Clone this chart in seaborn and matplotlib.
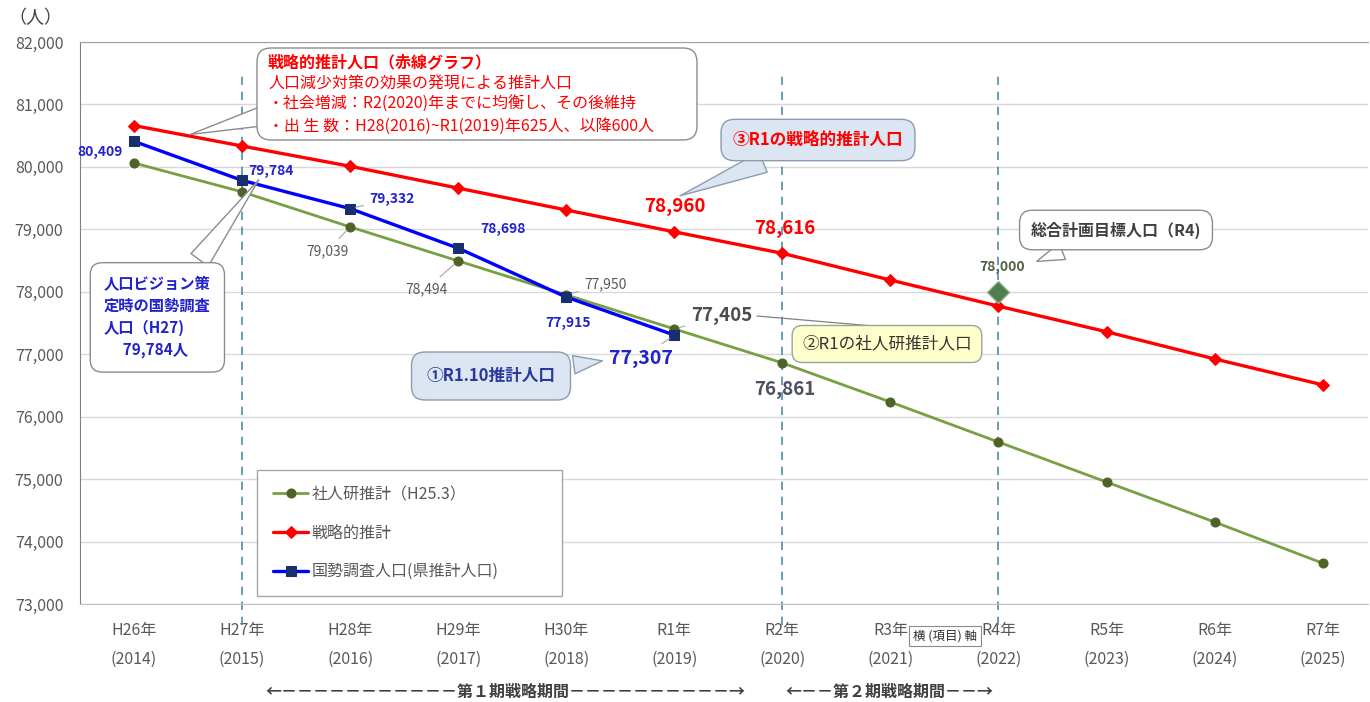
import numpy as np
import pandas as pd
import seaborn as sns
import matplotlib.pyplot as plt
from matplotlib.patches import FancyBboxPatch, Polygon

# data
years = ['H26年\n(2014)', 'H27年\n(2015)', 'H28年\n(2016)', 'H29年\n(2017)', 'H30年\n(2018)',
         'R1年\n(2019)', 'R2年\n(2020)', 'R3年\n(2021)', 'R4年\n(2022)', 'R5年\n(2023)',
         'R6年\n(2024)', 'R7年\n(2025)']
ipss = [80062, 79600, 79039, 78494, 77950, 77405, 76861, 76235, 75594, 74953, 74313, 73654]
strategic = [80662, 80334, 80010, 79660, 79310, 78960, 78616, 78188, 77770, 77360, 76925, 76510]
census = [80409, 79784, 79332, 78698, 77915, 77307]
target_idx = 8
target_pop = 78000
period_lines = [1, 6, 8]

W, H = 1370, 702
DPI = 100


def fp(x, y):
    # reference pixel -> figure fraction
    return (x / W, 1 - y / H)


def inch(x, y):
    return (x / DPI, (H - y) / DPI)


sns.set_style("white")
plt.rcParams['font.family'] = ['Noto Sans CJK JP', 'DejaVu Sans']

fig, ax = plt.subplots(figsize=(W / DPI, H / DPI), dpi=DPI)
fig.subplots_adjust(left=80 / W, right=1368 / W, top=1 - 42 / H, bottom=1 - 604 / H)

x = np.arange(len(years))
df_ipss = pd.DataFrame({'x': x, 'pop': ipss})
df_str = pd.DataFrame({'x': x, 'pop': strategic})
df_cen = pd.DataFrame({'x': x[:len(census)], 'pop': census})

# grid
for v in range(73000, 82001, 1000):
    ax.axhline(v, color='#d9d9d9', lw=1, zorder=0)

# period dashed lines
ax.vlines(period_lines, 72660, 81470, colors='#4f8ea8', linestyles=(0, (5, 4)), lw=1.2,
          clip_on=False, zorder=1)

sns.lineplot(data=df_ipss, x='x', y='pop', ax=ax, color='#77a044', lw=2.0, marker='o',
             markersize=6.5, markerfacecolor='#4f6228', markeredgecolor='#4f6228',
             label='社人研推計（H25.3）', zorder=3)
sns.lineplot(data=df_str, x='x', y='pop', ax=ax, color='#ff0000', lw=2.4, marker='D',
             markersize=6.5, markerfacecolor='#ff0000', markeredgecolor='#ff0000',
             label='戦略的推計', zorder=4)
sns.lineplot(data=df_cen, x='x', y='pop', ax=ax, color='#0000ff', lw=2.4, marker='s',
             markersize=7.5, markerfacecolor='#172f6e', markeredgecolor='#172f6e',
             label='国勢調査人口(県推計人口)', zorder=5)
ax.plot([target_idx], [target_pop], marker='D', markersize=11, color='#4e7d4e',
        markeredgecolor='#8fb08f', zorder=6)

ax.set_xlim(-0.5, 11.42)
ax.set_ylim(73000, 82000)
ax.set_xticks(x)
ax.set_xticklabels(years, fontsize=11.5, color='#595959', linespacing=1.9)
ax.set_yticks(range(73000, 82001, 1000))
ax.set_yticklabels([f'{v:,}' for v in range(73000, 82001, 1000)], fontsize=11.5, color='#595959')
ax.tick_params(axis='x', length=0, pad=13)
ax.tick_params(axis='y', length=0, pad=12)
ax.set_xlabel('')
ax.set_ylabel('')
ax.spines['right'].set_visible(False)
ax.spines['left'].set_color('#808080')
ax.spines['top'].set_color('#a0a0a0')
ax.spines['bottom'].set_color('#bfbfbf')

leg = ax.legend(loc='upper left',
                bbox_to_anchor=((257 - 80) / 1288, (604 - 590) / 562, (562 - 257) / 1288, (590 - 470) / 562),
                mode='expand', borderaxespad=0, fontsize=11.5, labelspacing=1.35, handlelength=2.2,
                handletextpad=0.2, borderpad=1.0, fancybox=False, edgecolor='#a6a6a6',
                framealpha=1)
for t in leg.get_texts():
    t.set_color('#595959')


def lab(i, v, text, dx, dy, color, size=10, weight='bold', leader=False):
    ap = None
    if leader:
        ap = dict(arrowstyle='-', color='#a6a6a6', lw=0.8, shrinkA=2, shrinkB=4)
    ax.annotate(text, xy=(i, v), xytext=(dx * 72 / DPI, -dy * 72 / DPI), textcoords='offset points',
                ha='center', va='center', fontsize=size, color=color, fontweight=weight,
                arrowprops=ap, zorder=7)


blue = '#2222cc'
lab(0, census[0], f'{census[0]:,}', -34, 11, blue)
lab(1, census[1], f'{census[1]:,}', 29, -9, blue)
lab(2, census[2], f'{census[2]:,}', 42, -10, blue, leader=True)
lab(3, census[3], f'{census[3]:,}', 45, -19, blue)
lab(4, census[4], f'{census[4]:,}', 2, 26, blue)
lab(5, census[5], f'{census[5]:,}', -33, 23, blue, size=14, leader=True)

gray = '#595959'
lab(2, ipss[2], f'{ipss[2]:,}', -23, 24, gray, weight='normal', leader=True)
lab(3, ipss[3], f'{ipss[3]:,}', -32, 28, gray, weight='normal', leader=True)
lab(4, ipss[4], f'{ipss[4]:,}', 39, -11, gray, weight='normal', leader=True)
lab(5, ipss[5], f'{ipss[5]:,}', 47, -13, '#4d4d4d', size=13.5, leader=True)
lab(6, ipss[6], f'{ipss[6]:,}', 2, 27, '#4d5060', size=13.5)

lab(5, strategic[5], f'{strategic[5]:,}', 1, -25, '#ff0000', size=13.5)
lab(6, strategic[6], f'{strategic[6]:,}', 2, -25, '#ff0000', size=13.5)
lab(target_idx, target_pop, f'{target_pop:,}', 4, -25, '#4f5f3f', size=10)


def callout(text, pos, target, fc, ec, color, size=11, weight='bold', ha='center', va='center',
            tail=1.6, pad=0.6, ls=1.2):
    ax.annotate(text, xy=target, xycoords='data', xytext=fp(*pos), textcoords='figure fraction',
                ha=ha, va=va, fontsize=size, color=color, fontweight=weight, linespacing=ls,
                bbox=dict(boxstyle=f'round,pad={pad},rounding_size=0.8', fc=fc, ec=ec, lw=1),
                arrowprops=dict(arrowstyle=f'wedge,tail_width={tail},shrink_factor=0.5',
                                fc=fc, ec=ec, lw=1),
                zorder=8)


# top red callout: box and tail drawn by hand, text lines on top
tip = fig.dpi_scale_trans.inverted().transform(ax.transData.transform((0.52, 80520)))
fig.add_artist(Polygon([inch(262, 106), inch(262, 126), tip], closed=True, fc='white',
                       ec='#8c8c8c', lw=1, transform=fig.dpi_scale_trans, zorder=1.4))
fig.add_artist(FancyBboxPatch(inch(257, 140), (697 - 257) / DPI, (140 - 48) / DPI,
                              boxstyle='round,pad=0,rounding_size=0.14', fc='white', ec='#8c8c8c',
                              lw=1, transform=fig.dpi_scale_trans, zorder=1.5))
fig.text(*fp(268, 62), '戦略的推計人口（赤線グラフ）', ha='left', va='center', fontsize=11.5,
         color='#ff0000', fontweight='bold')
red_lines = ['人口減少対策の効果の発現による推計人口',
             '・社会増減：R2(2020)年までに均衡し、その後維持',
             '・出 生 数：H28(2016)~R1(2019)年625人、以降600人']
for k, line in enumerate(red_lines):
    fig.text(*fp(268, 83 + 21.5 * k), line, ha='left', va='center', fontsize=11.5, color='#ff0000')

callout('人口ビジョン策\n定時の国勢調査\n人口（H27)\n　 79,784人', (104, 276), (1.17, 79830),
        'white', '#8c8c8c', blue, size=11, ha='left', va='top', pad=0.9, ls=1.45, tail=1.4)
callout('③R1の戦略的推計人口', (818, 140), (5.03, 79520), '#dce6f2', '#8c9cb0', '#ff0000',
        size=12, pad=0.7, tail=1.3)
callout('総合計画目標人口（R4)', (1116, 230), (8.33, 78470), 'white', '#8c8c8c', '#404040',
        size=11.5, pad=0.7, tail=1.1)
callout('①R1.10推計人口', (491, 376), (4.36, 76900), '#dce6f2', '#8c9cb0', '#2a3a9a',
        size=12, pad=0.9, tail=1.1)

ax.annotate('', xy=fp(873, 326), xycoords='figure fraction', xytext=fp(757, 316),
            textcoords='figure fraction',
            arrowprops=dict(arrowstyle='-', color='#808080', lw=0.9, shrinkA=0, shrinkB=0))
fig.text(*fp(887, 344), '②R1の社人研推計人口', ha='center', va='center', fontsize=12,
         color='#333333',
         bbox=dict(boxstyle='round,pad=0.6,rounding_size=0.6', fc='#ffffcc', ec='#a0a0a0', lw=1))

fig.text(*fp(945, 636), '横 (項目) 軸', ha='center', va='center', fontsize=9, color='#333333',
         bbox=dict(boxstyle='square,pad=0.3', fc='white', ec='#8c8c8c', lw=0.8))

fig.text(*fp(35, 18), '（人）', ha='center', va='center', fontsize=13, color='#404040')
fig.text(*fp(505, 692), '←' + '－' * 11 + '第１期戦略期間' + '－' * 10 + '→', ha='center',
         va='center', fontsize=11.5, color='#404040', fontweight='bold')
fig.text(*fp(889, 692), '←－－第２期戦略期間－－→', ha='center', va='center', fontsize=11.5,
         color='#404040', fontweight='bold')

fig.savefig('out.png', dpi=DPI)
